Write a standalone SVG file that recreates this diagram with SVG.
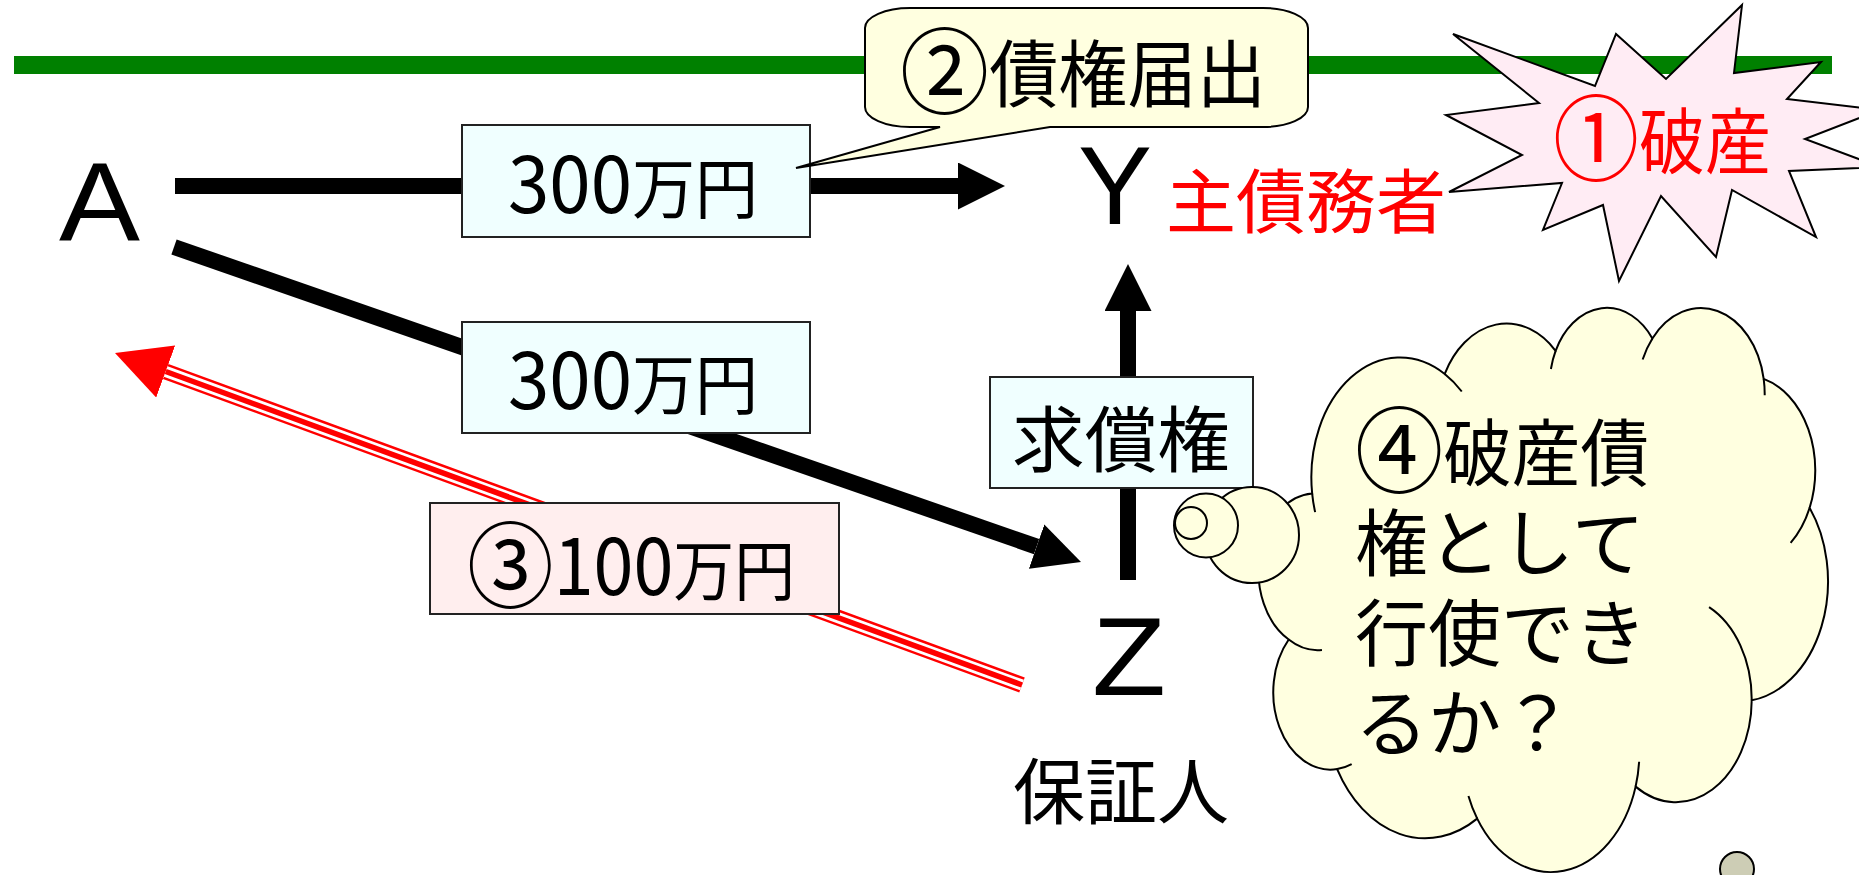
<svg xmlns="http://www.w3.org/2000/svg" width="1859" height="875" viewBox="0 0 1859 875">
<defs>
<style>
.jp{font-family:"Noto Sans CJK JP","Noto Sans CJK SC",sans-serif;}
.lat{font-family:"Liberation Sans",Arial,sans-serif;}
.box{stroke:#222;stroke-width:2;}
.cyan{fill:#F0FFFF;}
.pink{fill:#FFEEEE;}
.ylw{fill:#FFFFE0;stroke:#000;stroke-width:2;}
.big{font-size:112px;fill:#000;}
.lbl{font-size:72px;fill:#000;}
.red{fill:#FF0000;}
.blk{fill:none;stroke:#000;stroke-width:16;}
.dig{font-size:78px;}
.kj{font-size:66px;}
</style>
<marker id="ahB" markerUnits="userSpaceOnUse" markerWidth="48" markerHeight="48" refX="0" refY="23.5" orient="auto" viewBox="0 0 48 48"><path d="M0,0 L47,23.5 L0,47 Z" fill="#000"/></marker>
<marker id="ahR" markerUnits="userSpaceOnUse" markerWidth="56" markerHeight="56" refX="0" refY="27.7" orient="auto" viewBox="0 0 56 56"><path d="M0,0 L54,27.7 L0,55.4 Z" fill="#FF0000"/></marker>
</defs>
<rect x="0" y="0" width="1859" height="875" fill="#FFFFFF"/>
<rect id="rule" x="14" y="56" width="1818" height="18" fill="#008000"/>

<g id="connectors">
<path class="blk" d="M175,186 H958" marker-end="url(#ahB)"/>
<path class="blk" d="M174,247 L1036.6,546.6" marker-end="url(#ahB)"/>
<path class="blk" d="M1128,580 V311" marker-end="url(#ahB)"/>
<g id="payback">
<path d="M1022,685 L165.7,371.5" fill="none" stroke="#FF0000" stroke-width="16" marker-end="url(#ahR)"/>
<path d="M1022,685 L165.7,371.5" fill="none" stroke="#FFFFFF" stroke-width="11"/>
<path d="M1022,685 L165.7,371.5" fill="none" stroke="#FF0000" stroke-width="5.5"/>
</g>
</g>

<g id="nodeA"><text class="lat big" x="59" y="240" textLength="81" lengthAdjust="spacingAndGlyphs">A</text></g>
<g id="nodeY">
<text class="lat big" x="1078" y="224" textLength="74" lengthAdjust="spacingAndGlyphs">Y</text>
<text class="jp red" x="1166" y="228" font-size="70" textLength="280" lengthAdjust="spacingAndGlyphs">主債務者</text>
</g>
<g id="nodeZ">
<text class="lat big" x="1092" y="695" textLength="74" lengthAdjust="spacingAndGlyphs">Z</text>
<text class="jp lbl" x="1013" y="818">保証人</text>
</g>

<g id="label1">
<rect class="box cyan" x="462" y="125" width="348" height="112"/>
<text class="jp" fill="#000" x="508" y="213" textLength="250" lengthAdjust="spacingAndGlyphs"><tspan class="dig">300</tspan><tspan class="kj">万円</tspan></text>
</g>
<g id="label2">
<rect class="box cyan" x="462" y="322" width="348" height="111"/>
<text class="jp" fill="#000" x="508" y="409" textLength="250" lengthAdjust="spacingAndGlyphs"><tspan class="dig">300</tspan><tspan class="kj">万円</tspan></text>
</g>
<g id="label3">
<rect class="box pink" x="430" y="503" width="409" height="111"/>
<text class="jp" fill="#000" x="467" y="595" textLength="328" lengthAdjust="spacingAndGlyphs"><tspan font-size="94" dy="6">③</tspan><tspan class="dig" dy="-6">100</tspan><tspan class="kj">万円</tspan></text>
</g>
<g id="label4">
<rect class="box cyan" x="990" y="377" width="263" height="111"/>
<text class="jp lbl" x="1012" y="466" textLength="218" lengthAdjust="spacingAndGlyphs">求償権</text>
</g>

<g id="callout2">
<path d="M910,8 H1263 A45,20 0 0 1 1308,28 V107 A45,20 0 0 1 1263,127 H1050 L796,168 L940,127 H910 A45,20 0 0 1 865,107 V28 A45,20 0 0 1 910,8 Z" fill="#FFFFE0" stroke="#000" stroke-width="2"/>
<text class="jp" x="900" y="101" font-size="73" fill="#000" textLength="366" lengthAdjust="spacingAndGlyphs"><tspan font-size="94" dy="6">②</tspan><tspan dy="-6">債権届出</tspan></text>
</g>

<g id="burst1">
<polygon points="1453,34 1595,86 1616,34 1666,79 1742,5 1734,73 1821,62 1787,99 1880,110 1805,139 1880,167 1789,171 1816,237 1732,190 1716,257 1661,196 1619,281 1603,205 1543,230 1562,183 1449,192 1522,155 1446,115 1539,103" fill="#FFECF4" stroke="#000" stroke-width="2" stroke-linejoin="miter"/>
<text class="jp red" x="1553" y="168" font-size="72" textLength="218" lengthAdjust="spacingAndGlyphs"><tspan font-size="94" dy="6">①</tspan><tspan dy="-6">破産</tspan></text>
</g>

<g id="cloud4">
<path transform="translate(1261,306) scale(0.013119,0.013053)" fill="#FFFFE0" stroke="#000" stroke-width="152" d="M3900,14370 A6753,9190 0 0 1 14005,5202 A5333,7267 0 0 1 22457,3435 A4365,5945 0 0 1 29834,2485 A4857,6595 0 0 1 38318,5582 A5333,7273 0 0 1 41818,15466 A6775,9220 0 0 1 37405,30211 A5785,7867 0 0 1 28556,36821 A6752,9215 0 0 1 16480,39273 A7720,10543 0 0 1 5803,35477 A4360,5918 0 0 1 2113,25553 A4345,5945 0 0 1 3900,14370 Z"/>
<path transform="translate(1261,306) scale(0.013119,0.013053)" fill="none" stroke="#000" stroke-width="152" d="M4646.6,26350.5 A4345,5945 0 0 1 2113,25553 M6911.7,35095.5 A4360,5918 0 0 1 5803,35477 M16480,39273 A6752,9215 0 0 1 15812.6,37532.9 M28822.5,34912.8 A6752,9215 0 0 1 28556,36821 M34153.5,23075.3 A5785,7867 0 0 1 37405,30211 M41818,15466 A5333,7273 0 0 1 40370.2,18141.9 M38318,5582 A4857,6595 0 0 1 38394.8,6845.1 M29091.3,4099.1 A4857,6595 0 0 1 29834,2485 M22097.8,4824.9 A4365,5945 0 0 1 22457,3435 M14005,5202 A6753,9190 0 0 1 15303.8,6548.9 M4126.9,15789 A6753,9190 0 0 1 3900,14370"/>
<ellipse class="ylw" cx="1252" cy="535" rx="47" ry="48"/>
<circle class="ylw" cx="1206" cy="525.5" r="32"/>
<circle class="ylw" cx="1191" cy="523" r="16"/>
<text class="jp" font-size="73" fill="#000" x="1355" y="480" textLength="294" lengthAdjust="spacingAndGlyphs"><tspan font-size="94" dy="6">④</tspan><tspan dy="-6">破産債</tspan></text>
<text class="jp" font-size="73" fill="#000">
<tspan x="1355" y="570">権として</tspan>
<tspan x="1355" y="660">行使でき</tspan>
<tspan x="1355" y="750">るか？</tspan>
</text>
</g>

<g id="pagemark"><circle cx="1737" cy="869" r="17" fill="#CDCDB5" stroke="#000" stroke-width="2"/></g>
</svg>
